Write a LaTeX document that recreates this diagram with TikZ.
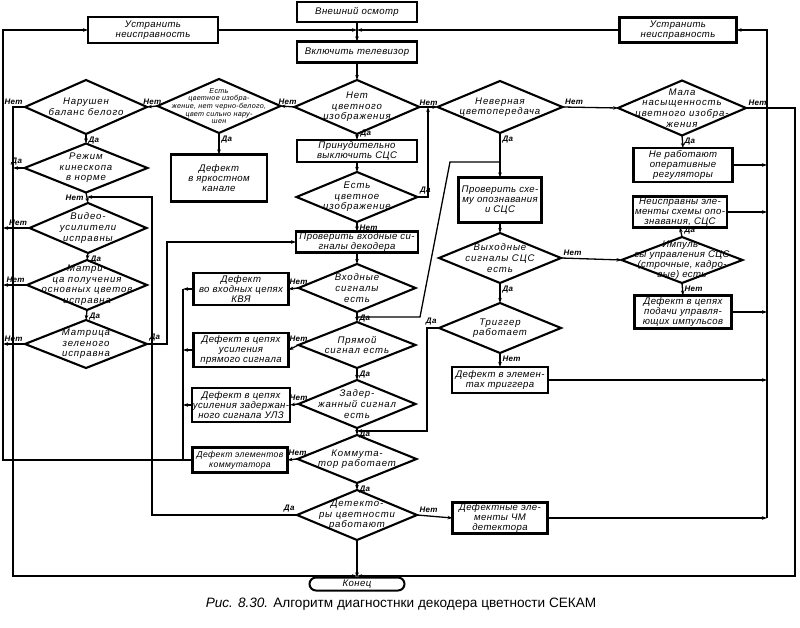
\documentclass[tikz,border=0pt]{standalone}
\usepackage{fontspec}
\setmainfont{Liberation Sans}
\newfontfamily\dgfam[LetterSpace=4]{Liberation Sans}
\newfontfamily\dcfam[LetterSpace=9]{Liberation Sans}
\newcommand\dgfont{\dgfam\itshape\fontsize{9.6}{10}\selectfont}
\newcommand\dcfont{\dcfam\itshape\fontsize{9.6}{10.6}\selectfont}
\newcommand\smfont{\dgfam\itshape\fontsize{7.2}{7.6}\selectfont}
\newcommand\ynfont{\dgfam\bfseries\itshape\fontsize{8}{8}\selectfont}
\usetikzlibrary{arrows.meta,shapes.geometric}
\tikzset{
blk/.style 2 args={draw,rectangle,line width=2.6pt,inner sep=1pt,align=center,font=\dgfont,minimum width=#1,minimum height=#2},
dec/.style 2 args={draw,diamond,line width=2.1pt,minimum width=#1,minimum height=#2}}

\begin{document}
\begin{tikzpicture}[x=1pt,y=-1pt,inner sep=0pt,outer sep=0pt,line width=1.3pt,
>={Stealth[length=5pt,width=3.5pt]},
dtxt/.style={align=center,font=\dcfont},
yn/.style={font=\ynfont,inner sep=1.5pt}]

\useasboundingbox (0,0) rectangle (800,628);

\draw (357,12) node[blk={120}{20}] (vneshn) {Внешний осмотр};
\draw (357,52) node[blk={120}{21}] (vkl) {Включить телевизор};
\draw (153,30) node[blk={130}{26}] (ustrL) {Устранить\\неисправность};
\draw (678,30) node[blk={117}{25}] (ustrR) {Устранить\\неисправность};

\draw (86,107) node[dec={122}{54},label={[dtxt]center:{Нарушен\\баланс белого}}] (narush) {};
\draw (219,106) node[dec={123}{54},label={[dtxt,font=\smfont]center:{Есть\\цветное изобра-\\жение, нет черно-белого,\\цвет сильно нару-\\шен}}] (estcv1) {};
\draw (357,107) node[dec={125}{54},label={[dtxt]center:{Нет\\цветного\\изображения}}] (netcv) {};
\draw (500,107) node[dec={125}{52},label={[dtxt]center:{Неверная\\цветопередача}}] (never) {};
\draw (682,108) node[dec={128}{55},label={[dtxt]center:{Мала\\насыщенность\\цветного изобра-\\жения}}] (mala) {};

\draw (86,168) node[dec={123}{49},label={[dtxt]center:{Режим\\кинескопа\\в норме}}] (rezhim) {};
\draw (88,228) node[dec={117}{50},label={[dtxt]center:{Видео-\\усилители\\исправны}}] (video) {};
\draw (87,285) node[dec={120}{50},label={[dtxt]center:{Матри-\\ца получения\\основных цветов\\исправна}}] (matr) {};
\draw (86,344) node[dec={122}{48},label={[dtxt]center:{Матрица\\зеленого\\исправна}}] (matrz) {};

\draw (219,178) node[blk={96}{47}] (yark) {Дефект\\в яркостном\\канале};
\draw (357,151) node[blk={120}{22}] (prinud) {Принудительно\\выключить СЦС};
\draw (357,197) node[dec={121}{50},label={[dtxt]center:{Есть\\цветное\\изображение}}] (estcv2) {};
\draw (357,242) node[blk={122}{20}] (provvh) {Проверить входные си-\\гналы декодера};
\draw (357,288) node[dec={117}{48},label={[dtxt]center:{Входные\\сигналы\\есть}}] (vhod) {};
\draw (357,345) node[dec={117}{46},label={[dtxt]center:{Прямой\\сигнал есть}}] (pryam) {};
\draw (357,404) node[dec={117}{48},label={[dtxt]center:{Задер-\\жанный сигнал\\есть}}] (zader) {};
\draw (357,459) node[dec={119}{48},label={[dtxt]center:{Коммута-\\тор работает}}] (kommut) {};
\draw (357,515) node[dec={120}{50},label={[dtxt]center:{Детекто-\\ры цветности\\работают}}] (detekt) {};
\draw (357,584) node[blk={95}{13},rounded corners=6.5pt,line width=2pt] (konec) {Конец};

\draw (241,289) node[blk={95}{32}] (kvya) {Дефект\\во входных цепях\\КВЯ};
\draw (241,350) node[blk={95}{34}] (pryamb) {Дефект в цепях\\усиления\\прямого сигнала};
\draw (241,405) node[blk={95}{34}] (zaderb) {Дефект в цепях\\усиления задержан-\\ного сигнала УЛЗ};
\draw (240,460) node[blk={95}{25},font=\dgfam\itshape\fontsize{8.6}{9.8}\selectfont] (kommb) {Дефект элементов\\коммутатора};

\draw (683,165) node[blk={99}{34}] (nerab) {Не работают\\оперативные\\регуляторы};
\draw (500,200) node[blk={83}{45}] (provsx) {Проверить схе-\\му опознавания\\и СЦС};
\draw (500,258) node[dec={122}{50},label={[dtxt]center:{Выходные\\сигналы СЦС\\есть}}] (vyhod) {};
\draw (680,212) node[blk={94}{28}] (neispr) {Неисправны эле-\\менты схемы опо-\\знавания, СЦС};
\draw (682,260) node[dec={121}{46},label={[dtxt,font=\dgfont]center:{Импуль-\\сы управления СЦС\\(строчные, кадро-\\вые) есть}}] (impuls) {};
\draw (683,312) node[blk={97}{33}] (podach) {Дефект в цепях\\подачи управля-\\ющих импульсов};
\draw (500,328) node[dec={122}{50},label={[dtxt]center:{Триггер\\работает}}] (trig) {};
\draw (500,380) node[blk={96}{26}] (trigb) {Дефект в элемен-\\тах триггера};
\draw (500,518) node[blk={95}{30}] (chmb) {Дефектные эле-\\менты ЧМ\\детектора};

\draw (401,604) node[font=\fontsize{13.6}{14}\selectfont] (cap) {\textit{Рис. 8.30.} Алгоритм диагностнки декодера цветности СЕКАМ};

\coordinate (jtop) at (357,30);
\coordinate (jbot) at (357,576);
\coordinate (ftl) at (3,30);
\coordinate (fbl) at (3,460);
\coordinate (ebl) at (13,576);
\coordinate (ebr) at (795,576);
\coordinate (ftr) at (767,30);
\coordinate (cl) at (183,460);
\coordinate (cz) at (167,242);
\coordinate (cd) at (152,197);
\coordinate (j3) at (87,197);
\coordinate (cn) at (428,107);
\coordinate (ct) at (427,431);
\coordinate (j2) at (357,431);
\coordinate (j1) at (357,317);
\coordinate (j4) at (500,162);
\coordinate (cv1) at (450,162);
\coordinate (cv2) at (420,317);

\draw[->] (vneshn.south) -- (vkl.north);
\draw[->] (ustrL.east) -- (jtop);
\draw[->] (ustrR.west) -- (jtop);
\draw[->] (vkl.south) -- (netcv.north);
\draw[->] (netcv.west) -- node[yn,above] (l1) {Нет} (estcv1.east);
\draw[->] (netcv.east) -- node[yn,above] (l2) {Нет} (never.west);
\draw[->] (estcv1.west) -- node[yn,above] (l3) {Нет} (narush.east);
\draw[->] (estcv1.south) node[yn,below right=1pt] (l4) {Да} -- (yark.north);
\draw[->] (narush.south) node[yn,below right=1pt] (l5) {Да} -- (rezhim.north);
\draw[->] (narush.west) node[yn,above left=1pt] (l6) {Нет} -| (ebl) -- (jbot);
\draw[->] (rezhim.west) node[yn,above left=1pt] (l7) {Да} -- (rezhim.west -| ebl);
\draw[->] (rezhim.south) node[yn,below left=1pt] (l8) {Нет} -- (video.north);
\draw[->] (video.south) node[yn,below right=1pt] (l9) {Да} -- (matr.north);
\draw[->] (matr.south) node[yn,below right=1pt] (l10) {Да} -- (matrz.north);
\draw[->] (video.west) node[yn,above left=1pt] (l11) {Нет} -- (video.west -| ftl);
\draw[->] (matr.west) node[yn,above left=1pt] (l12) {Нет} -- (matr.west -| ftl);
\draw[->] (matrz.west) node[yn,above left=1pt] (l13) {Нет} -- (matrz.west -| ftl);
\draw[->] (matrz.east) node[yn,above right=1pt] (l14) {Да} -| (cz) -- (provvh.west);

\draw[->] (netcv.south) node[yn,right=2pt] (l15) {Да} -- (prinud.north);
\draw[->] (prinud.south) -- (estcv2.north);
\draw[->] (estcv2.east) node[yn,above right=1pt] (l16) {Да} -| (cn);
\draw[->] (estcv2.south) node[yn,below right=1pt] (l17) {Нет} -- (provvh.north);
\draw[->] (provvh.south) -- (vhod.north);
\draw[->] (vhod.south) node[yn,below right=1pt] (l18) {Да} -- (pryam.north);
\draw[->] (pryam.south) node[yn,below right=1pt] (l19) {Да} -- (zader.north);
\draw[->] (zader.south) node[yn,below right=1pt] (l20) {Да} -- (kommut.north);
\draw[->] (kommut.south) node[yn,below right=1pt] (l21) {Да} -- (detekt.north);
\draw[->] (detekt.south) -- (konec.north);
\draw[->] (vhod.west) node[yn,above=2pt] (l22) {Нет} -- (kvya.east);
\draw[->] (pryam.west) node[yn,above=2pt] (l23) {Нет} -- (pryamb.east);
\draw[->] (zader.west) node[yn,above=2pt] (l24) {Нет} -- (zaderb.east);
\draw[->] (kommut.west) node[yn,above=2pt] (l25) {Нет} -- (kommb.east);
\draw[->] (detekt.west) node[yn,above left=1pt] (l26) {Да} -| (cd) -- (j3);
\draw[->] (detekt.east) node[yn,above right=1pt] (l27) {Нет} -- (chmb.west);

\draw[->] (kvya.west) -- (kvya.west -| cl);
\draw[->] (pryamb.west) -- (pryamb.west -| cl);
\draw[->] (zaderb.west) -- (zaderb.west -| cl);
\draw (kvya.west -| cl) -- (cl);
\draw[->] (kommb.west) -- (fbl) -- (ftl) -- (ustrL.west);

\draw[->] (never.east) node[yn,above right=1pt] (l28) {Нет} -- (mala.west);
\draw[->] (never.south) node[yn,below right=1pt] (l29) {Да} -- (provsx.north);
\draw (j4) -- (cv1) -- (cv2) -- (j1);
\draw[->] (mala.south) node[yn,below right=1pt] (l30) {Да} -- (nerab.north);
\draw[->] (mala.east) node[yn,above right=1pt] (l31) {Нет} -| (ebr) -- (jbot);
\draw[->] (provsx.south) -- (vyhod.north);
\draw[->] (vyhod.east) node[yn,above right=1pt] (l32) {Нет} -- (impuls.west);
\draw[->] (vyhod.south) node[yn,below right=1pt] (l33) {Да} -- (trig.north);
\draw[->] (impuls.north) node[yn,above right=1pt] (l34) {Да} -- (neispr.south);
\draw[->] (impuls.south) node[yn,below right=1pt] (l35) {Нет} -- (podach.north);
\draw[->] (trig.south) node[yn,below right=1pt] (l36) {Нет} -- (trigb.north);
\draw[->] (trig.west) node[yn,above left=1pt] (l37) {Да} -| (ct) -- (j2);

\draw[->] (nerab.east) -- (nerab.east -| ftr);
\draw[->] (neispr.east) -- (neispr.east -| ftr);
\draw[->] (podach.east) -- (podach.east -| ftr);
\draw[->] (trigb.east) -- (trigb.east -| ftr);
\draw[->] (chmb.east) -- (chmb.east -| ftr);
\draw[->] (chmb.east -| ftr) -- (ftr) -- (ustrR.east);
\end{tikzpicture}
\end{document}
